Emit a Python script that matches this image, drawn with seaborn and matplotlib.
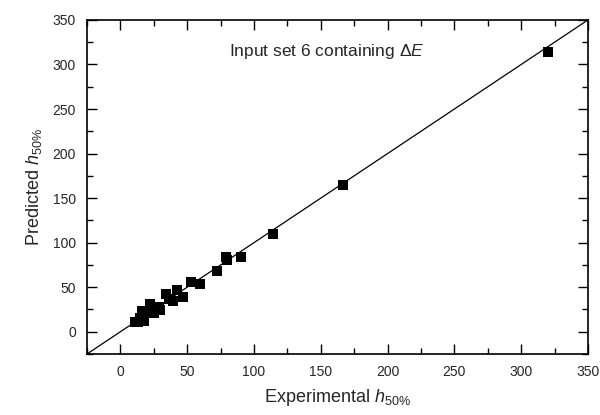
import numpy as np
import pandas as pd
import seaborn as sns
from matplotlib import pyplot as plt
from matplotlib.ticker import MultipleLocator

# valores
experimental = [10.8, 13.3, 14.5, 16.2, 17.5, 18.7, 22.0, 25.0, 28.7, 29.5,
                34.5, 36.3, 39.5, 42.0, 47.0, 53.0, 59.5, 72.0, 78.8, 80.0,
                90.5, 114.2, 166.7, 320.0]
predicho = [11.2, 10.5, 15.0, 23.0, 12.0, 22.0, 31.0, 20.6, 28.0, 24.0,
            42.0, 36.4, 34.5, 46.8, 39.0, 56.0, 53.5, 68.5, 83.5, 80.5,
            83.5, 109.4, 164.7, 314.0]
limites = [-25, 350]

df = pd.DataFrame({"exp": experimental, "pred": predicho})

sns.set_style("ticks")
plt.rcParams['font.family'] = ['Liberation Sans', 'DejaVu Sans']
plt.rcParams['mathtext.fontset'] = 'custom'
plt.rcParams['mathtext.rm'] = 'Liberation Sans'
plt.rcParams['mathtext.it'] = 'Liberation Sans:italic'

fig = plt.figure(figsize=(6, 4.15), dpi=100)
ax = fig.add_axes([0.145, 0.147, 0.835, 0.805])

ax.plot(limites, limites, color='black', lw=0.9, zorder=1)
sns.scatterplot(data=df, x="exp", y="pred", ax=ax, marker='s', s=45,
                color='black', edgecolor='black', linewidth=0, zorder=2)

ax.set_xlim(limites)
ax.set_ylim(limites)
ax.xaxis.set_major_locator(MultipleLocator(50))
ax.yaxis.set_major_locator(MultipleLocator(50))
ax.xaxis.set_minor_locator(MultipleLocator(25))
ax.yaxis.set_minor_locator(MultipleLocator(25))
ax.tick_params(which='both', direction='in', top=True, right=True,
               labelsize=10, width=1, color='black')
ax.tick_params(which='major', length=7, pad=8)
ax.tick_params(which='minor', length=4)
for s in ax.spines.values():
    s.set_linewidth(1.2)
    s.set_color('black')

ax.set_xlabel(r"Experimental $h_{\mathregular{50\%}}$", fontsize=13, labelpad=6)
ax.set_ylabel(r"Predicted $h_{\mathregular{50\%}}$", fontsize=13, labelpad=6)
ax.text(81, 314, r"Input set 6 containing $\Delta E$", fontsize=12.5,
        va='center', ha='left')

plt.savefig("out.png", dpi=100)
